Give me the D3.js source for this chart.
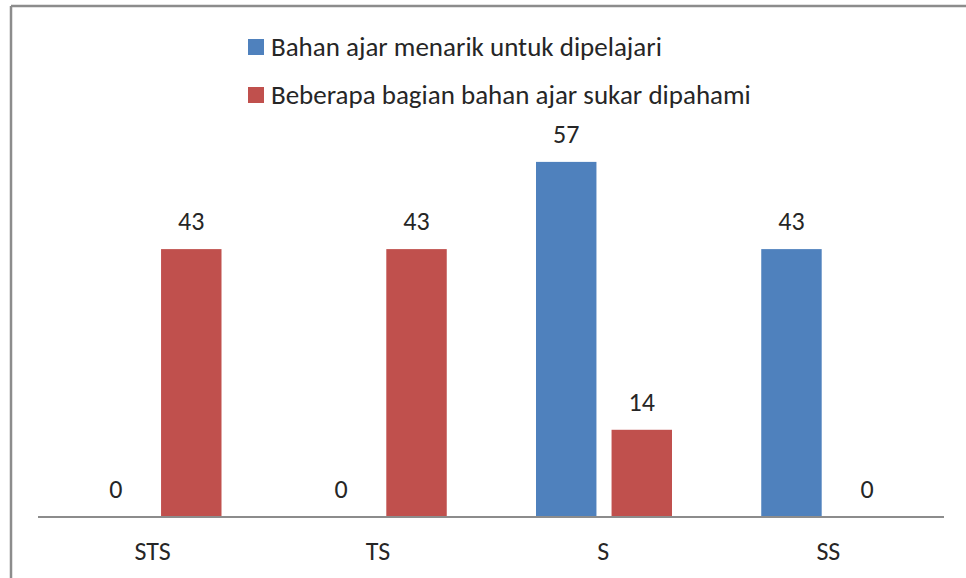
<!DOCTYPE html>
<html lang="id">
<head>
<meta charset="UTF-8">
<script src="https://d3js.org/d3.v7.min.js"></script>
<style>
  body { margin: 0; background: #fff; }
  svg { font-family: Carlito, "Open Sans", "Liberation Sans", sans-serif; }
</style>
</head>
<body>
<svg id="chart" width="966" height="578"></svg>
<script>
var categories = ["STS", "TS", "S", "SS"];
var seriesNames = ["Bahan ajar menarik untuk dipelajari", "Beberapa bagian bahan ajar sukar dipahami"];
var menarik = [0, 0, 57, 43];
var sukar = [43, 43, 14, 0];
var colors = ["#4f81bd", "#c0504d"];

var svg = d3.select("#chart");
var fs = 26;

// frame (only top and left edges show in the crop)
svg.append("line").attr("x1", 11).attr("x2", 966).attr("y1", 6).attr("y2", 6)
    .attr("stroke", "#8c8c8c").attr("stroke-width", 2.5);
svg.append("line").attr("x1", 11).attr("x2", 11).attr("y1", 6).attr("y2", 578)
    .attr("stroke", "#8c8c8c").attr("stroke-width", 2.5);

var base = 517;

var x = d3.scaleBand().domain(categories).range([40, 941]).padding(0);
var x1 = d3.scaleBand().domain([0, 1]).range([45.5, 181.5]).paddingInner(15 / 75);
var y = d3.scaleLinear().domain([0, 60]).range([base, base - 6.23 * 60]);

var data = categories.map(function(c, i) {
    return {cat: c, vals: [menarik[i], sukar[i]]};
});

var groups = svg.selectAll("g.cat").data(data).enter().append("g")
    .attr("class", "cat")
    .attr("transform", d => "translate(" + x(d.cat) + ",0)");

groups.selectAll("rect").data(d => d.vals).enter().append("rect")
    .attr("x", (d, i) => x1(i))
    .attr("y", d => y(d))
    .attr("width", x1.bandwidth())
    .attr("height", d => base - y(d))
    .attr("fill", (d, i) => colors[i]);

groups.selectAll("text").data(d => d.vals).enter().append("text")
    .attr("x", (d, i) => x1(i) + x1.bandwidth() / 2)
    .attr("y", d => y(d) - 19)
    .attr("text-anchor", "middle")
    .attr("font-size", fs)
    .attr("fill", "#262626")
    .text(d => d);

// x axis
var xAxis = svg.append("g").attr("transform", "translate(0," + base + ")")
    .call(d3.axisBottom(x).tickSize(0).tickPadding(25));
xAxis.select(".domain")
    .attr("d", "M" + (x.range()[0] - 2) + ",0H" + (x.range()[1] + 3))
    .attr("stroke", "#8c8c8c").attr("stroke-width", 2);
xAxis.selectAll("text").attr("font-size", fs).attr("fill", "#262626")
    .attr("font-family", "Carlito, 'Open Sans', 'Liberation Sans', sans-serif");

// legend
var legend = svg.selectAll("g.leg").data(seriesNames).enter().append("g")
    .attr("class", "leg")
    .attr("transform", (d, i) => "translate(248," + (39 + i * 48) + ")");
legend.append("rect").attr("width", 16).attr("height", 16)
    .attr("fill", (d, i) => colors[i]);
legend.append("text").attr("x", 23).attr("y", 8).attr("dy", "0.35em")
    .attr("font-size", 27).attr("fill", "#262626")
    .text(d => d);
</script>
</body>
</html>
